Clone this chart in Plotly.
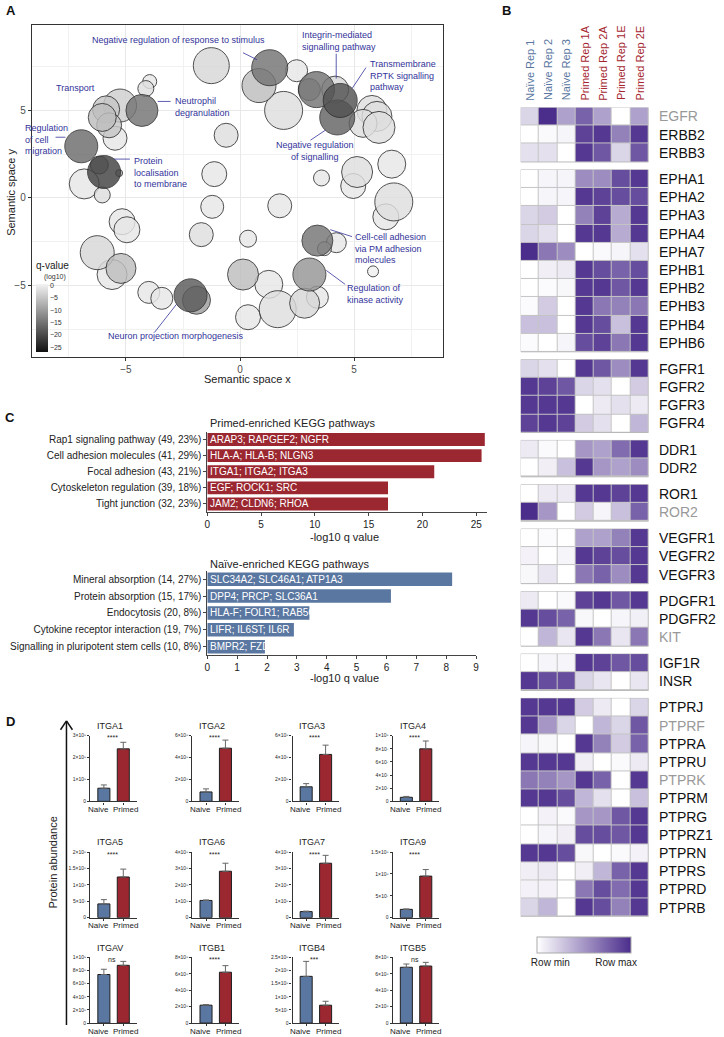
import math
import plotly.graph_objects as go

W, H = 724, 1037
FONT = "Liberation Sans, Arial, sans-serif"
RED = "#9b2731"
BLUE = "#5a77a1"
LABEL_BLUE = "#33339a"
DARK = "#222222"

# ---------------- A: semantic space of GO terms ----------------
go_x = [-1.26, -3.96, -4.13, -5.87, -5.26, -6.04, -5.74, -5.48, -4.30, -6.96,
        -5.96, -6.17, -5.30, -6.83, -6.04, -0.61, -1.13, -1.22, -5.17, -4.96,
        -1.70, 0.35, -6.26, -5.22, -5.61, 0.13, -4.00, -3.43, -2.17, -1.91,
        1.26, 0.35, 1.65, 2.83, 3.39, 3.04, 5.83, 1.30, 0.83, 2.48,
        1.91, 3.35, 3.04, 4.17, 4.39, 4.26, 5.78, 6.00, 5.39, 6.09,
        3.57, 5.13, 4.96, 6.65, 6.74, 6.39, 1.74, 3.39, 4.22, 3.70]
go_y = [7.56, 6.65, 6.25, 5.06, 5.28, 4.60, 4.15, 3.41, 5.00, 2.95,
        1.48, 1.88, 1.42, 0.80, 0.17, 3.58, 1.36, -0.51, -1.36, -1.82,
        -2.10, -2.33, -3.13, -4.03, -4.38, -4.38, -5.40, -5.74, -5.57, -5.85,
        -4.94, -6.82, -6.36, -6.02, -5.68, -4.38, -4.20, 7.44, 6.42, 7.27,
        5.00, 6.19, 6.19, 6.19, 5.57, 4.60, 5.00, 4.66, 4.26, 4.03,
        1.14, 1.48, 0.68, 1.93, -0.23, -1.08, -0.45, -2.44, -2.56, -2.90]
go_size = [36, 14, 16, 27, 33, 28, 25, 24, 32, 33,
           33, 18, 7, 30, 16, 24, 25, 23, 26, 26,
           24, 17, 34, 30, 30, 31, 22, 22, 33, 28,
           28, 25, 37, 30, 22, 33, 11, 36, 34, 22,
           38, 36, 22, 27, 34, 35, 30, 30, 28, 32,
           16, 31, 25, 28, 38, 26, 24, 31, 20, 14]
go_log10q = [-3, -1, -2, -5, -4, -6, -5, -1, -15, -16,
             -21, -9, -8, -1, -2, -2, -1, -1, -1, -1,
             -2, -1, -3, -6, -1, -6, -1, -1, -18, -10,
             -1, -1, -2, -3, -1, -11, 0, -15, -6, -1,
             -2, -15, -9, -3, -19, -17, -2, -2, -2, -2,
             -1, -2, -1, -1, -2, -1, -1, -15, -1, -3]

# ---------------- B: RTK heatmap ----------------
heat_samples = ["Naïve Rep 1", "Naïve Rep 2", "Naïve Rep 3",
                "Primed Rep 1A", "Primed Rep 2A", "Primed Rep 1E", "Primed Rep 2E"]
heat_genes = ["EGFR", "ERBB2", "ERBB3",
              "EPHA1", "EPHA2", "EPHA3", "EPHA4", "EPHA7", "EPHB1", "EPHB2", "EPHB3", "EPHB4", "EPHB6",
              "FGFR1", "FGFR2", "FGFR3", "FGFR4",
              "DDR1", "DDR2",
              "ROR1", "ROR2",
              "VEGFR1", "VEGFR2", "VEGFR3",
              "PDGFR1", "PDGFR2", "KIT",
              "IGF1R", "INSR",
              "PTPRJ", "PTPRF", "PTPRA", "PTPRU", "PTPRK", "PTPRM", "PTPRG", "PTPRZ1", "PTPRN",
              "PTPRS", "PTPRD", "PTPRB"]
heat_group_sizes = [3, 10, 4, 2, 2, 3, 3, 2, 12]
heat_grey_genes = ["EGFR", "ROR2", "KIT", "PTPRF", "PTPRK"]
heat_values = [
    [0.20, 1.00, 0.45, 0.75, 0.45, 0.00, 0.45],
    [0.00, 0.03, 0.05, 0.90, 0.95, 0.60, 0.95],
    [0.15, 0.15, 0.00, 0.95, 0.80, 0.20, 0.80],
    [0.00, 0.05, 0.05, 0.55, 0.55, 0.85, 0.95],
    [0.00, 0.05, 0.05, 0.95, 0.90, 0.85, 0.85],
    [0.20, 0.25, 0.00, 0.60, 0.90, 0.40, 0.95],
    [0.20, 0.15, 0.00, 0.95, 0.95, 0.40, 0.95],
    [1.00, 0.65, 0.55, 0.00, 0.03, 0.05, 0.15],
    [0.00, 0.08, 0.10, 0.95, 0.85, 0.75, 0.85],
    [0.00, 0.02, 0.04, 0.95, 0.95, 0.80, 0.95],
    [0.02, 0.25, 0.00, 0.95, 0.65, 0.60, 0.65],
    [0.30, 0.30, 0.00, 0.95, 0.85, 0.30, 0.95],
    [0.02, 0.00, 0.05, 0.85, 0.90, 0.65, 0.95],
    [0.20, 0.15, 0.00, 0.95, 0.80, 0.55, 0.95],
    [0.95, 0.90, 0.80, 0.20, 0.15, 0.00, 0.25],
    [0.95, 0.95, 0.95, 0.00, 0.10, 0.15, 0.10],
    [0.90, 0.95, 0.90, 0.25, 0.15, 0.00, 0.35],
    [0.10, 0.03, 0.00, 0.50, 0.45, 0.70, 0.95],
    [0.00, 0.08, 0.30, 0.95, 0.50, 0.45, 0.55],
    [0.00, 0.10, 0.10, 0.95, 0.95, 0.90, 0.95],
    [1.00, 0.50, 0.00, 0.25, 0.05, 0.30, 0.75],
    [0.00, 0.02, 0.00, 0.45, 0.45, 0.60, 0.95],
    [0.06, 0.00, 0.05, 0.95, 0.90, 0.85, 0.95],
    [0.04, 0.12, 0.00, 0.65, 0.75, 0.55, 0.95],
    [0.10, 0.00, 0.03, 0.90, 0.95, 0.80, 0.95],
    [0.95, 0.85, 0.75, 0.04, 0.00, 0.05, 0.07],
    [0.00, 0.35, 0.12, 0.95, 0.65, 0.12, 0.65],
    [0.00, 0.05, 0.05, 0.95, 0.90, 0.80, 0.85],
    [0.95, 0.85, 0.85, 0.20, 0.12, 0.00, 0.12],
    [0.95, 0.95, 0.95, 0.25, 0.10, 0.00, 0.20],
    [0.95, 0.50, 0.20, 0.00, 0.35, 0.20, 0.80],
    [0.05, 0.04, 0.00, 0.95, 0.60, 0.25, 0.75],
    [0.95, 0.95, 0.95, 0.08, 0.00, 0.03, 0.10],
    [0.65, 0.60, 0.50, 0.95, 0.75, 0.00, 0.95],
    [0.95, 0.95, 0.85, 0.35, 0.15, 0.00, 0.30],
    [0.00, 0.06, 0.03, 0.50, 0.50, 0.80, 0.95],
    [0.00, 0.05, 0.08, 0.85, 0.85, 0.80, 0.95],
    [0.95, 0.95, 0.85, 0.04, 0.00, 0.03, 0.06],
    [0.08, 0.10, 0.00, 0.08, 0.35, 0.75, 0.95],
    [0.06, 0.06, 0.00, 0.65, 0.85, 0.70, 0.95],
    [0.20, 0.35, 0.00, 0.95, 0.85, 0.60, 0.95],
]

# ---------------- C: KEGG enrichment ----------------
primed_pathways = ["Rap1 signaling pathway (49, 23%)", "Cell adhesion molecules (41, 29%)",
                   "Focal adhesion (43, 21%)", "Cytoskeleton regulation (39, 18%)",
                   "Tight junction (32, 23%)"]
primed_logq = [25.8, 25.5, 21.1, 16.8, 16.8]
primed_genes = ["ARAP3; RAPGEF2; NGFR", "HLA-A; HLA-B; NLGN3", "ITGA1; ITGA2; ITGA3",
                "EGF; ROCK1; SRC", "JAM2; CLDN6; RHOA"]
naive_pathways = ["Mineral absorption (14, 27%)", "Protein absorption (15, 17%)",
                  "Endocytosis (20, 8%)", "Cytokine receptor interaction (19, 7%)",
                  "Signalling in pluripotent stem cells (10, 8%)"]
naive_logq = [8.2, 6.15, 3.42, 2.9, 1.93]
naive_genes = ["SLC34A2; SLC46A1; ATP1A3", "DPP4; PRCP; SLC36A1", "HLA-F; FOLR1; RAB5C",
               "LIFR; IL6ST; IL6R", "BMPR2; FZD7"]

# ---------------- D: integrin abundance ----------------
integrins = ["ITGA1", "ITGA2", "ITGA3", "ITGA4", "ITGA5", "ITGA6",
             "ITGA7", "ITGA9", "ITGAV", "ITGB1", "ITGB4", "ITGB5"]
naive_mean = [0.60e8, 0.86e8, 1.33e8, 0.62e7, 0.42e8, 1.05e8, 0.37e8, 0.19e8, 7.4e8, 2.18e8, 1.78e8, 6.8e8]
naive_sd = [0.15e8, 0.28e8, 0.29e8, 0.13e7, 0.13e8, 0.03e8, 0.03e8, 0.01e8, 0.8e8, 0.07e8, 0.57e8, 0.4e8]
primed_mean = [2.4e8, 4.86e8, 4.29e8, 8.0e7, 1.24e8, 2.83e8, 3.32e8, 0.95e8, 8.8e8, 6.2e8, 0.68e8, 6.95e8]
primed_sd = [0.3e8, 0.74e8, 0.85e8, 1.2e7, 0.24e8, 0.49e8, 0.48e8, 0.15e8, 0.6e8, 0.8e8, 0.15e8, 0.45e8]
axis_top = [3e8, 6e8, 6e8, 1e8, 2e8, 4e8, 4e8, 1.5e8, 1e9, 8e8, 2.5e8, 8e8]
axis_step = [1e8, 2e8, 2e8, 2e7, 5e7, 1e8, 1e8, 5e7, 2e8, 2e8, 5e7, 2e8]
significance = ["****"] * 8 + ["ns", "****", "***", "ns"]
groups_d = ["Naive", "Primed"]


def fx(x):
    return x / W


def fy(y):
    return 1 - y / H


def dom_x(a, b):
    return [a / W, b / W]


def dom_y(a, b):
    return [1 - b / H, 1 - a / H]


annotations = []
shapes = []


def note(text, x, y, size=9, color=DARK, xanchor="left", yanchor="middle", align="left", angle=0):
    annotations.append(dict(text=text, x=fx(x), y=fy(y), xref="paper", yref="paper",
                            showarrow=False, font=dict(size=size, color=color, family=FONT),
                            xanchor=xanchor, yanchor=yanchor, align=align, textangle=angle))


def seg(x0, y0, x1, y1, color=LABEL_BLUE, width=0.8):
    shapes.append(dict(type="line", xref="paper", yref="paper", x0=fx(x0), y0=fy(y0),
                       x1=fx(x1), y1=fy(y1), line=dict(color=color, width=width)))


def sci(v):
    if v == 0:
        return "0"
    sup = str.maketrans("0123456789", "⁰¹²³⁴⁵⁶⁷⁸⁹")
    e = int(math.floor(math.log10(v) + 1e-9))
    m = v / 10 ** e
    return f"{m:g}×10{str(e).translate(sup)}"


fig = go.Figure()
layout = {}

# ---- A ----
order = sorted(range(len(go_x)), key=lambda i: -go_log10q[i])
fig.add_trace(go.Scatter(
    x=[go_x[i] for i in order], y=[go_y[i] for i in order], mode="markers",
    marker=dict(size=[go_size[i] for i in order], sizemode="diameter",
                color=[go_log10q[i] for i in order], coloraxis="coloraxis",
                opacity=0.82, line=dict(color="#2a2a2a", width=1)),
    xaxis="x", yaxis="y", hoverinfo="skip", showlegend=False))

axis_a = dict(showline=True, mirror=True, linecolor="#333", linewidth=1, ticks="outside",
              ticklen=3, tickcolor="#333", tickfont=dict(size=10, color="#4d4d4d"),
              showgrid=True, gridcolor="#e8e8e8", gridwidth=1, zeroline=False,
              tickmode="linear", tick0=0, dtick=5,
              minor=dict(dtick=2.5, showgrid=True, gridcolor="#f1f1f1", gridwidth=1))
layout["xaxis"] = dict(axis_a, domain=dom_x(29, 444), range=[-9.13, 8.91], anchor="y")
layout["yaxis"] = dict(axis_a, domain=dom_y(22, 356), range=[-9.09, 9.89], anchor="x")
layout["coloraxis"] = dict(
    cmin=-27, cmax=0.4, colorscale=[[0, "#111111"], [1, "#f3f3f3"]],
    colorbar=dict(x=fx(33), xanchor="left", y=fy(283), yanchor="top", len=68, lenmode="pixels",
                  thickness=12, xpad=0, ypad=0, outlinewidth=0, ticks="",
                  tickvals=[0, -5, -10, -15, -20, -25], tickfont=dict(size=7, color="#333")))
shapes.append(dict(type="rect", xref="paper", yref="paper", x0=fx(30), x1=fx(68), y0=fy(355),
                   y1=fy(253), fillcolor="white", line=dict(width=0), layer="between"))
note("q-value", 50, 264, size=10, color="#222", xanchor="center")
note("(log10)", 52, 276, size=7, color="#333", xanchor="center")
note("Semantic space x", 247, 378, size=11, color="#222", xanchor="center")
note("Semantic space y", 8, 190, size=11, color="#222", xanchor="center", angle=-90)

go_labels = [
    ("Negative regulation of response to stimulus", 88, 37, "left"),
    ("Transport", 51, 85, "left"),
    ("Neutrophil<br>degranulation", 171, 105, "left"),
    ("Regulation<br>of cell<br>migration", 20, 137, "left"),
    ("Protein<br>localisation<br>to membrane", 130, 170, "left"),
    ("Integrin-mediated<br>signalling pathway", 299, 38, "left"),
    ("Transmembrane<br>RPTK signalling<br>pathway", 368, 73, "left"),
    ("Negative regulation<br>of signalling", 315, 149, "center"),
    ("Cell-cell adhesion<br>via PM adhesion<br>molecules", 353, 247, "left"),
    ("Regulation of<br>kinase activity", 345, 293, "left"),
    ("Neuron projection morphogenesis", 104, 335, "left"),
]
for text, lx, ly, anc in go_labels:
    note(text, lx, ly, size=9, color=LABEL_BLUE, xanchor=anc, align=anc)
for x0, y0, x1, y1 in [(242, 50, 256, 57), (156, 99, 169, 99), (53, 135, 63, 135),
                       (112, 157, 128, 157), (336, 51, 336, 76), (366, 65, 352, 86),
                       (310, 138, 325, 128), (330, 228, 352, 235), (326, 269, 345, 283),
                       (175, 303, 153, 331)]:
    seg(x0, y0, x1, y1)

# ---- B ----
gap = 0.436
row_pos = []
offsets = []
pos = 0.0
for n in heat_group_sizes:
    offsets.append(pos)
    row_pos.extend([pos + i + 0.5 for i in range(n)])
    pos += n + gap
total_rows = pos - gap

start = 0
for g, n in enumerate(heat_group_sizes):
    fig.add_trace(go.Heatmap(
        z=heat_values[start:start + n], x=list(range(7)), y=row_pos[start:start + n],
        coloraxis="coloraxis2", xgap=1, ygap=1, xaxis="x2", yaxis="y2", hoverinfo="skip"))
    shapes.append(dict(type="rect", xref="x2", yref="y2", x0=-0.5, x1=6.5, y0=offsets[g],
                       y1=offsets[g] + n, fillcolor="#c4c4c4", line=dict(color="#b8b8b8", width=1),
                       layer="below"))
    start += n

layout["xaxis2"] = dict(domain=dom_x(522, 651), range=[-0.5, 6.5], anchor="y2", visible=False)
layout["yaxis2"] = dict(domain=dom_y(105, 919), range=[total_rows, 0], anchor="x2", visible=False)
layout["coloraxis2"] = dict(
    cmin=0, cmax=1, colorscale=[[0, "#ffffff"], [1, "#4b2d8c"]],
    colorbar=dict(orientation="h", x=fx(586), xanchor="center", y=fy(939), yanchor="top",
                  len=94, lenmode="pixels", thickness=16, xpad=0, ypad=0,
                  outlinewidth=1, outlinecolor="#aaaaaa", ticks="",
                  tickvals=[0.14, 0.84], ticktext=["Row min", "Row max"],
                  tickfont=dict(size=10, color="#222")))

for i, s in enumerate(heat_samples):
    annotations.append(dict(text=s, x=i, y=fy(100), xref="x2", yref="paper", showarrow=False,
                            textangle=-90, xanchor="center", yanchor="bottom",
                            font=dict(size=11, family=FONT, color=BLUE if i < 3 else "#a5262f")))
for gname, yc in zip(heat_genes, row_pos):
    annotations.append(dict(text=gname, x=6.5, y=yc, xref="x2", yref="y2", showarrow=False,
                            xanchor="left", yanchor="middle", xshift=8,
                            font=dict(size=14, family=FONT,
                                      color="#999999" if gname in heat_grey_genes else "#111111")))

# ---- C ----
axis_c = dict(showline=True, linecolor="#444", linewidth=1, ticks="outside", tickcolor="#444",
              showgrid=False, zeroline=False, tickfont=dict(size=10, color=DARK))
for pathways, logq, genes, color, n in [(primed_pathways, primed_logq, primed_genes, RED, 3),
                                         (naive_pathways, naive_logq, naive_genes, BLUE, 4)]:
    fig.add_trace(go.Bar(
        x=logq, y=pathways, orientation="h", width=0.8,
        marker=dict(color=color, line=dict(width=0)), xaxis=f"x{n}", yaxis=f"y{n}",
        hoverinfo="skip", showlegend=False))
    for p, gtxt in zip(pathways, genes):
        annotations.append(dict(text=gtxt, x=0, y=p, xref=f"x{n}", yref=f"y{n}", showarrow=False,
                                xanchor="left", yanchor="middle", xshift=1,
                                font=dict(size=10, color="white", family=FONT)))
layout["xaxis3"] = dict(axis_c, domain=dom_x(206, 488), range=[0, 26], tickvals=[0, 5, 10, 15, 20, 25],
                        ticklen=3, anchor="y3")
layout["yaxis3"] = dict(axis_c, domain=dom_y(431, 512), autorange="reversed", ticklen=3,
                        anchor="x3")
layout["xaxis4"] = dict(axis_c, domain=dom_x(206, 477), range=[0, 9], dtick=1, tick0=0,
                        ticklen=3, anchor="y4")
layout["yaxis4"] = dict(axis_c, domain=dom_y(571, 656), autorange="reversed", ticklen=3,
                        anchor="x4")
note("Primed-enriched KEGG pathways", 207, 422, size=11)
note("-log10 q value", 344, 537, size=11, xanchor="center")
note("Naïve-enriched KEGG pathways", 207, 564, size=11)
note("-log10 q value", 344, 679, size=11, xanchor="center")

# ---- D ----
col_x = [88, 191, 292, 393]
row_y = [(737, 803), (854, 920), (960, 1026)]
for k, name in enumerate(integrins):
    n = 5 + k
    ax0 = col_x[k % 4]
    top, zero = row_y[k // 4]
    fig.add_trace(go.Bar(
        x=groups_d, y=[naive_mean[k], primed_mean[k]], width=0.62,
        marker=dict(color=[BLUE, RED], line=dict(color="#1e1e1e", width=1)),
        error_y=dict(type="data", symmetric=False, array=[naive_sd[k], primed_sd[k]],
                     arrayminus=[0, 0], color="#666666", thickness=1, width=3),
        xaxis=f"x{n}", yaxis=f"y{n}", hoverinfo="skip", showlegend=False))
    steps = int(round(axis_top[k] / axis_step[k]))
    tv = [i * axis_step[k] for i in range(steps + 1)]
    layout[f"xaxis{n}"] = dict(domain=dom_x(ax0, ax0 + 47), range=[-0.7, 1.7], anchor=f"y{n}",
                               showline=True, linecolor="#333", linewidth=1.3, ticks="outside",
                               ticklen=2, tickcolor="#333", showgrid=False, zeroline=False,
                               showticklabels=False)
    layout[f"yaxis{n}"] = dict(domain=dom_y(top, zero), range=[0, axis_top[k]], anchor=f"x{n}",
                               showline=True, linecolor="#333", linewidth=1.3, ticks="outside",
                               ticklen=2, tickcolor="#333", showgrid=False, zeroline=False,
                               tickvals=tv, ticktext=[sci(v) for v in tv],
                               tickfont=dict(size=5, color=DARK))
    note(groups_d[0], ax0 + 8, zero + 8, size=8, xanchor="center")
    note(groups_d[1], ax0 + 36, zero + 8, size=8, xanchor="center")
    note(name, ax0 + 20, top - 10, size=9, xanchor="center")
    note(significance[k], ax0 + 22, top + 2, size=7, xanchor="center")

note("Protein abundance", 50, 865, size=11, xanchor="center", angle=-90)
seg(64, 1028, 64, 723, color="#111", width=1.5)
seg(58, 731, 64, 722, color="#111", width=1.5)
seg(70, 731, 64, 722, color="#111", width=1.5)

# panel letters
for letter, lx, ly in [("A", 8, 8), ("B", 508, 8), ("C", 7, 417), ("D", 8, 723)]:
    annotations.append(dict(text=f"<b>{letter}</b>", x=fx(lx), y=fy(ly), xref="paper",
                            yref="paper", showarrow=False, xanchor="center", yanchor="middle",
                            font=dict(size=13, color="#111", family=FONT)))

fig.update_layout(
    width=W, height=H, margin=dict(l=0, r=0, t=0, b=0), autosize=False,
    paper_bgcolor="white", plot_bgcolor="white", font=dict(family=FONT, color=DARK),
    showlegend=False, annotations=annotations, shapes=shapes, **layout)

fig.write_html("out.html", config={"displayModeBar": False},
               post_script="document.body.style.margin='0px';")
